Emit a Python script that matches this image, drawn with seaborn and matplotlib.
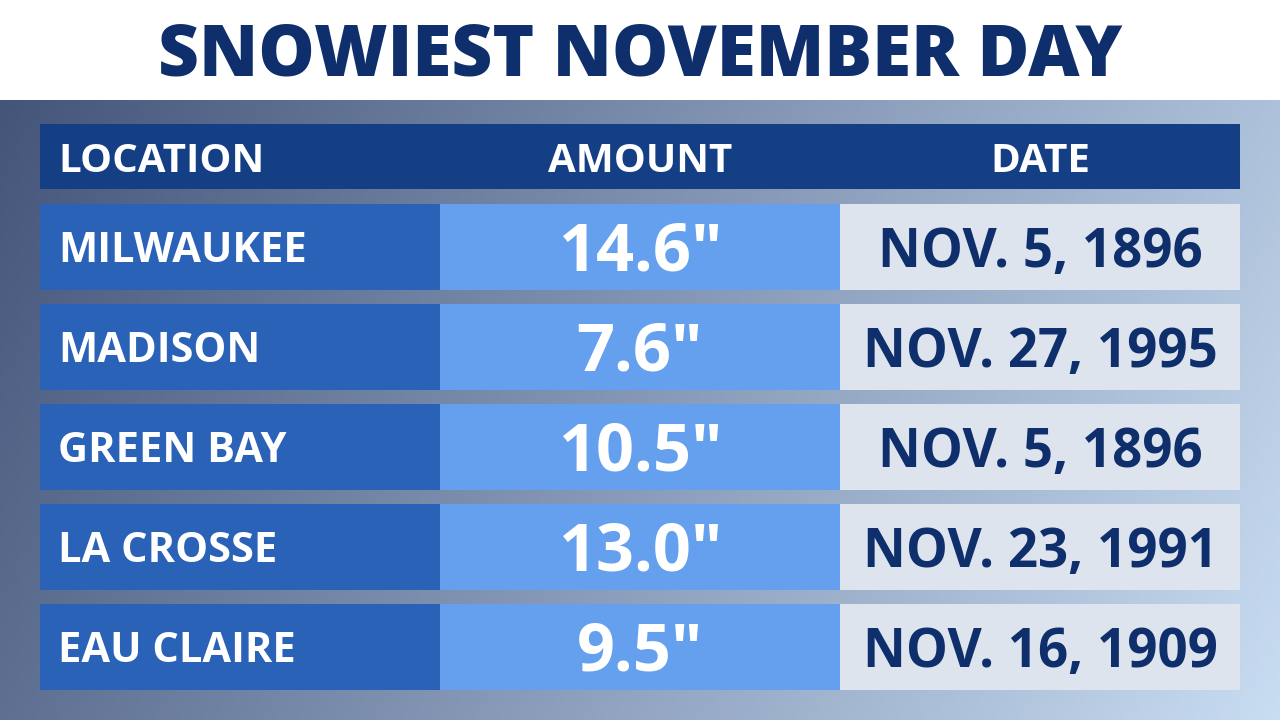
import numpy as np
import seaborn as sns
import matplotlib.pyplot as plt
import matplotlib
matplotlib.use('agg')

title = "SNOWIEST NOVEMBER DAY"
headers = ["LOCATION", "AMOUNT", "DATE"]
locations = ["MILWAUKEE", "MADISON", "GREEN BAY", "LA CROSSE", "EAU CLAIRE"]
amounts = ['14.6"', '7.6"', '10.5"', '13.0"', '9.5"']
dates = ["NOV. 5, 1896", "NOV. 27, 1995", "NOV. 5, 1896", "NOV. 23, 1991", "NOV. 16, 1909"]

sns.set_theme(style="white")
plt.rcParams['font.family'] = ['Open Sans', 'DejaVu Sans']
navy = "#0e2f6b"
col_colors = ["#2a62b8", "#64a0ee", "#dde4ee"]
text_colors = ["white", "white", navy]

fig = plt.figure(figsize=(12.8, 7.2), dpi=100)
ax = fig.add_axes([0, 0, 1, 1])
ax.set_xlim(0, 1280)
ax.set_ylim(720, 0)
ax.axis('off')

# background gradient
xx, yy = np.meshgrid(np.linspace(0, 1, 256), np.linspace(0, 1, 128))
t = np.clip(0.8 * xx + 0.2 * yy, 0, 1)
c0 = np.array(matplotlib.colors.to_rgb("#44557a"))
c1 = np.array(matplotlib.colors.to_rgb("#c8dcf2"))
img = c0[None, None, :] * (1 - t[..., None]) + c1[None, None, :] * t[..., None]
ax.imshow(img, extent=[0, 1280, 720, 100], aspect='auto', zorder=0)

ax.text(640, 57, title, ha='center', va='center', fontsize=51, fontweight='heavy', color=navy)

# header
ax.barh([156.5], [1200], left=40, height=65, color="#153f85", linewidth=0, zorder=1)
hy = 161
ax.text(58, hy, headers[0], ha='left', va='center', fontsize=29, fontweight='bold', color='white')
ax.text(640, hy, headers[1], ha='center', va='center', fontsize=29, fontweight='bold', color='white')
ax.text(1040, hy, headers[2], ha='center', va='center', fontsize=29, fontweight='bold', color='white')

ys = [247 + 100 * i for i in range(len(locations))]
for j, col in enumerate([locations, amounts, dates]):
    ax.barh(ys, [400] * len(ys), left=40 + 400 * j, height=86, color=col_colors[j], linewidth=0, zorder=1)
for y, loc, amt, d in zip(ys, locations, amounts, dates):
    ax.text(58, y + 5, loc, ha='left', va='center', fontsize=30, fontweight='bold', color='white')
    ax.text(640, y + 6, amt, ha='center', va='center', fontsize=48, fontweight='bold', color='white')
    ax.text(1040, y + 6, d, ha='center', va='center', fontsize=38, fontweight='bold', color=navy)

fig.savefig("out.png", dpi=100)
